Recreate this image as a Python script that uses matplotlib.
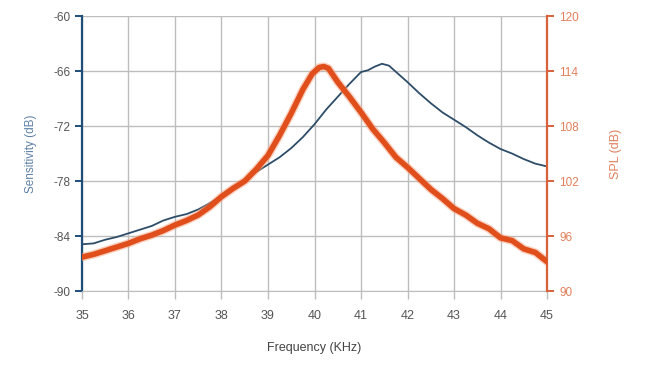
import matplotlib
matplotlib.use("Agg")
import matplotlib.pyplot as plt

# sensitivity curve (left axis, dB)
freq_sens = [35.0, 35.25, 35.5, 35.75, 36.0, 36.25, 36.5, 36.75, 37.0, 37.25, 37.5, 37.75,
             38.0, 38.25, 38.5, 38.75, 39.0, 39.25, 39.5, 39.75, 40.0, 40.25, 40.5, 40.75,
             41.0, 41.15, 41.3, 41.45, 41.6, 41.8, 42.0, 42.25, 42.5, 42.75, 43.0, 43.25,
             43.5, 43.75, 44.0, 44.25, 44.5, 44.75, 45.0]
sens_db = [-84.9, -84.8, -84.4, -84.1, -83.7, -83.3, -82.9, -82.3, -81.9, -81.6, -81.1, -80.4,
           -79.6, -78.8, -77.9, -77.0, -76.2, -75.4, -74.4, -73.2, -71.8, -70.2, -68.8, -67.4,
           -66.1, -65.9, -65.5, -65.2, -65.4, -66.3, -67.2, -68.4, -69.5, -70.5, -71.3, -72.1,
           -73.0, -73.8, -74.5, -75.0, -75.6, -76.1, -76.4]

# SPL curve (right axis, dB)
freq_spl = [35.0, 35.25, 35.5, 35.75, 36.0, 36.25, 36.5, 36.75, 37.0, 37.25, 37.5, 37.75,
            38.0, 38.25, 38.5, 38.75, 39.0, 39.25, 39.5, 39.75, 39.95, 40.1, 40.2, 40.3,
            40.5, 40.75, 41.0, 41.25, 41.5, 41.75, 42.0, 42.25, 42.5, 42.75, 43.0, 43.25,
            43.5, 43.75, 44.0, 44.25, 44.5, 44.75, 45.0]
spl_db = [93.7, 94.0, 94.4, 94.8, 95.2, 95.7, 96.1, 96.6, 97.2, 97.7, 98.3, 99.2,
          100.3, 101.2, 102.0, 103.3, 104.8, 107.0, 109.4, 112.0, 113.7, 114.4, 114.5, 114.3,
          112.8, 111.2, 109.5, 107.7, 106.2, 104.6, 103.5, 102.3, 101.1, 100.1, 99.0, 98.3,
          97.4, 96.8, 95.8, 95.5, 94.6, 94.2, 93.2]

x_ticks = list(range(35, 46))
sens_ticks = [-90, -84, -78, -72, -66, -60]
spl_ticks = [90, 96, 102, 108, 114, 120]

BLUE = "#1f4e79"
BLUE_LINE = "#2e4d68"
BLUE_LABEL = "#5d80a6"
ORANGE = "#e04e1c"
ORANGE_AX = "#d8613a"
ORANGE_LABEL = "#e2805c"
GRID = "#bdbdbd"
TXT = "#555555"

plt.rcParams["font.family"] = ["Liberation Sans", "DejaVu Sans"]
plt.rcParams["axes.unicode_minus"] = False

fig = plt.figure(figsize=(6.48, 3.67), dpi=100)
ax = fig.add_axes([0.1265, 0.207, 0.7177, 0.749])
ax2 = ax.twinx()

ax.plot(freq_sens, sens_db, color=BLUE_LINE, lw=1.3, zorder=3)
ax2.plot(freq_spl, spl_db, color="#f6a07e", lw=6, alpha=0.5, solid_capstyle="round", zorder=2)
ax2.plot(freq_spl, spl_db, color=ORANGE, lw=4, solid_capstyle="round", zorder=3)

ax.set_xlim(35, 45)
ax.set_ylim(-90, -60)
ax2.set_ylim(90, 120)
ax.set_xticks(x_ticks)
ax.set_yticks(sens_ticks)
ax2.set_yticks(spl_ticks)

ax.grid(True, color=GRID, lw=1.0)
ax.set_axisbelow(True)

for s in ["top", "right"]:
    ax.spines[s].set_visible(False)
ax.spines["bottom"].set_color(GRID)
ax.spines["left"].set_color(BLUE)
ax.spines["left"].set_linewidth(1.6)
for s in ["top", "left", "bottom"]:
    ax2.spines[s].set_visible(False)
ax2.spines["right"].set_color(ORANGE_AX)
ax2.spines["right"].set_linewidth(1.6)

ax.tick_params(axis="x", colors=GRID, labelcolor=TXT, length=6, width=1.0, labelsize=9, pad=8)
ax.tick_params(axis="y", colors=BLUE, labelcolor=TXT, length=5, width=1.4, labelsize=8.5, pad=3)
ax2.tick_params(axis="y", colors=ORANGE_AX, labelcolor=ORANGE_LABEL, length=5, width=1.4, labelsize=8.5, pad=4)

ax.set_xlabel("Frequency (KHz)", color="#444444", fontsize=9, labelpad=14)
ax.set_ylabel("Sensitivity (dB)", color=BLUE_LABEL, fontsize=8.5, labelpad=12)
ax2.set_ylabel("SPL (dB)", color=ORANGE_LABEL, fontsize=9, labelpad=22)

fig.savefig("out.png", dpi=100)
